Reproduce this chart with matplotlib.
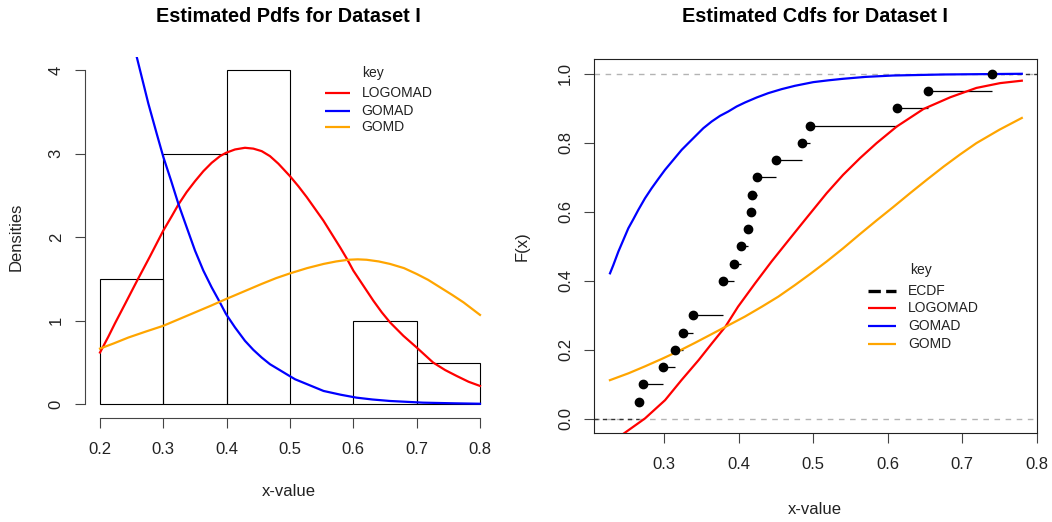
import numpy as np
import matplotlib
matplotlib.use("Agg")
import matplotlib.pyplot as plt
from matplotlib.lines import Line2D

plt.rcParams['font.family'] = ['Liberation Sans', 'DejaVu Sans']

# ---------------- data ----------------
sample = [0.266, 0.271, 0.298, 0.315, 0.325, 0.338, 0.379, 0.379, 0.393, 0.403,
          0.412, 0.416, 0.418, 0.424, 0.450, 0.485, 0.496, 0.613, 0.654, 0.740]
hist_breaks = [0.2, 0.3, 0.4, 0.5, 0.6, 0.7, 0.8]

models = ["LOGOMAD", "GOMAD", "GOMD"]
model_colors = ["red", "blue", "orange"]

# estimated pdfs
logomad_pdf_x = [0.200, 0.2132, 0.2237, 0.2395, 0.2579, 0.2789, 0.300, 0.3132, 0.3237, 0.3368,
                 0.350, 0.3632, 0.3763, 0.3895, 0.399, 0.4132, 0.4289, 0.4421, 0.4553, 0.4684,
                 0.4816, 0.500, 0.5132, 0.5264, 0.5395, 0.5526, 0.5658, 0.579, 0.590, 0.600,
                 0.6158, 0.6316, 0.645, 0.658, 0.679, 0.700, 0.713, 0.726, 0.745, 0.763,
                 0.782, 0.800]
logomad_pdf_y = [0.62, 0.81, 0.97, 1.20, 1.47, 1.77, 2.08, 2.25, 2.39, 2.54,
                 2.67, 2.79, 2.89, 2.97, 3.01, 3.05, 3.07, 3.06, 3.03, 2.97,
                 2.88, 2.73, 2.61, 2.48, 2.34, 2.20, 2.04, 1.88, 1.74, 1.60,
                 1.42, 1.24, 1.10, 0.98, 0.82, 0.68, 0.59, 0.50, 0.41, 0.34,
                 0.27, 0.22]
gomad_pdf_x = [0.250, 0.2579, 0.2658, 0.2763, 0.2895, 0.300, 0.3121, 0.3237, 0.3368, 0.350,
               0.3632, 0.3763, 0.3879, 0.399, 0.4132, 0.4289, 0.4421, 0.4553, 0.4684, 0.4816,
               0.4947, 0.508, 0.553, 0.580, 0.605, 0.630, 0.658, 0.710, 0.760, 0.800]
gomad_pdf_y = [4.41, 4.16, 3.92, 3.60, 3.24, 2.96, 2.68, 2.40, 2.12, 1.84,
               1.60, 1.40, 1.24, 1.08, 0.92, 0.76, 0.652, 0.56, 0.48, 0.42,
               0.36, 0.30, 0.16, 0.115, 0.08, 0.058, 0.04, 0.02, 0.012, 0.007]
gomd_pdf_x = [0.200, 0.222, 0.245, 0.272, 0.300, 0.325, 0.350, 0.375, 0.399, 0.427,
              0.455, 0.478, 0.500, 0.527, 0.553, 0.573, 0.592, 0.607, 0.621, 0.640,
              0.658, 0.680, 0.700, 0.718, 0.737, 0.756, 0.774, 0.800]
gomd_pdf_y = [0.667, 0.73, 0.80, 0.87, 0.94, 1.02, 1.10, 1.18, 1.26, 1.35,
              1.44, 1.51, 1.567, 1.63, 1.68, 1.71, 1.73, 1.735, 1.73, 1.71,
              1.68, 1.63, 1.56, 1.49, 1.40, 1.31, 1.22, 1.07]

# estimated cdfs
logomad_cdf_x = [0.246, 0.274, 0.301, 0.323, 0.346, 0.364, 0.382, 0.399, 0.422, 0.444, 0.467,
                 0.489, 0.518, 0.540, 0.563, 0.585, 0.612, 0.648, 0.684, 0.719, 0.751, 0.780]
logomad_cdf_y = [-0.042, 0.001, 0.054, 0.112, 0.170, 0.219, 0.267, 0.325, 0.393, 0.456, 0.518,
                 0.577, 0.654, 0.707, 0.756, 0.799, 0.847, 0.898, 0.932, 0.959, 0.973, 0.980]
gomad_cdf_x = [0.2271, 0.2316, 0.2383, 0.2450, 0.2517, 0.2584, 0.2651, 0.2741, 0.2830, 0.2920,
               0.3009, 0.3121, 0.3233, 0.3322, 0.3412, 0.3524, 0.3636, 0.3748, 0.3859, 0.3971,
               0.4083, 0.4240, 0.4396, 0.4575, 0.4754, 0.500, 0.520, 0.540, 0.570, 0.607,
               0.675, 0.780]
gomad_cdf_y = [0.4217, 0.4459, 0.4846, 0.5184, 0.5523, 0.5784, 0.6055, 0.6393, 0.6683, 0.6954,
               0.7215, 0.7505, 0.7795, 0.7988, 0.8182, 0.8423, 0.8617, 0.8781, 0.8907, 0.9052,
               0.9168, 0.9313, 0.9439, 0.9555, 0.9652, 0.9758, 0.981, 0.9855, 0.991, 0.995,
               0.998, 1.000]
gomd_cdf_x = [0.227, 0.252, 0.274, 0.297, 0.319, 0.341, 0.364, 0.386, 0.408, 0.431, 0.453,
              0.475, 0.496, 0.518, 0.540, 0.5625, 0.585, 0.6075, 0.630, 0.6525, 0.675,
              0.697, 0.719, 0.750, 0.780]
gomd_cdf_y = [0.112, 0.132, 0.152, 0.174, 0.196, 0.220, 0.246, 0.271, 0.296, 0.325, 0.354,
              0.387, 0.420, 0.456, 0.494, 0.535, 0.575, 0.614, 0.654, 0.693, 0.731,
              0.766, 0.799, 0.838, 0.872]

pdf_x = [logomad_pdf_x, gomad_pdf_x, gomd_pdf_x]
pdf_y = [logomad_pdf_y, gomad_pdf_y, gomd_pdf_y]
cdf_x = [logomad_cdf_x, gomad_cdf_x, gomd_cdf_x]
cdf_y = [logomad_cdf_y, gomad_cdf_y, gomd_cdf_y]

left_xticks = [0.2, 0.3, 0.4, 0.5, 0.6, 0.7, 0.8]
left_yticks = [0, 1, 2, 3, 4]
right_xticks = [0.3, 0.4, 0.5, 0.6, 0.7, 0.8]
right_yticks = [0.0, 0.2, 0.4, 0.6, 0.8, 1.0]

# ---------------- figure ----------------
W, H = 1052, 522
fig = plt.figure(figsize=(W / 100, H / 100), dpi=100)

def px_rect(x0, y0, x1, y1):
    return [x0 / W, 1 - y1 / H, (x1 - x0) / W, (y1 - y0) / H]

def fx(px):
    return px / W

def fy(py):
    return 1 - py / H

TICK_FS = 12
LAB_FS = 12
TITLE_FS = 14.3
LEG_FS = 10
LW = 1.6
TXT = '#222222'


def draw_key(x_line0, x_line1, x_text, x_title, y_title, rows, handles):
    fig.text(fx(x_title), fy(y_title), "key", ha='center', va='center',
             fontsize=LEG_FS, color=TXT)
    for y, h in zip(rows, handles):
        fig.add_artist(Line2D([fx(x_line0), fx(x_line1)], [fy(y), fy(y)],
                              transform=fig.transFigure, color=h.get_color(),
                              lw=h.get_linewidth(), ls=h.get_linestyle(),
                              solid_capstyle='butt', dash_capstyle='butt'))
        fig.text(fx(x_text), fy(y), h.get_label(), ha='left', va='center',
                 fontsize=LEG_FS, color=TXT)


# ---- left: pdfs ----
ax1 = fig.add_axes(px_rect(84.8, 56.7, 495.2, 417.7))
ax1.hist(sample, bins=hist_breaks, density=True, fill=False, edgecolor='black',
         linewidth=0.8)
handles1 = []
for name, col, xs, ys in zip(models, model_colors, pdf_x, pdf_y):
    ln, = ax1.plot(xs, ys, color=col, lw=LW, label=name)
    handles1.append(ln)
ax1.set_xlim(0.176, 0.824)
ax1.set_ylim(-0.16, 4.16)
for s in ['top', 'right']:
    ax1.spines[s].set_visible(False)
ax1.spines['left'].set_bounds(0, 4)
ax1.spines['bottom'].set_bounds(0.2, 0.8)
for s in ['left', 'bottom']:
    ax1.spines[s].set_color('#444444')
    ax1.spines[s].set_linewidth(0.8)
ax1.set_xticks(left_xticks)
ax1.set_xticklabels([f"{v:.1f}" for v in left_xticks])
ax1.set_yticks(left_yticks)
ax1.set_yticklabels([str(v) for v in left_yticks], rotation=90, va='center')
ax1.tick_params(axis='both', direction='out', length=7.2, width=0.8, color='#444444',
                labelsize=TICK_FS, labelcolor=TXT)
ax1.tick_params(axis='x', pad=10)
ax1.tick_params(axis='y', pad=8)
draw_key(325, 350, 361.7, 373, 73.3, [93.3, 110.7, 127.3], handles1)

fig.text(fx(288.3), fy(21.7), "Estimated Pdfs for Dataset I", ha='center', va='baseline',
         fontsize=TITLE_FS, fontweight='bold', color='black')
fig.text(fx(289), fy(491.7), "x-value", ha='center', va='center', fontsize=LAB_FS,
         color=TXT)
fig.text(fx(16.3), fy(237.2), "Densities", ha='center', va='center', rotation=90,
         fontsize=LAB_FS, color=TXT)

# ---- right: cdfs ----
ax2 = fig.add_axes(px_rect(594, 59.3, 1036.7, 433.3))
ax2.set_xlim(0.2056, 0.8)
ax2.set_ylim(-0.042, 1.042)
ax2.axhline(0, color='#b3b3b3', lw=1.0, ls=(0, (4, 4)), zorder=1)
ax2.axhline(1, color='#b3b3b3', lw=1.0, ls=(0, (4, 4)), zorder=1)

ux, cnt = np.unique(np.array(sample), return_counts=True)
Fy = np.cumsum(cnt) / len(sample)
ax2.hlines(Fy[:-1], ux[:-1], ux[1:], color='black', lw=0.9, zorder=3)
ax2.hlines([0.0], ax2.get_xlim()[0], ux[0], color='#333333', lw=1.0,
           linestyles=[(0, (3, 3))], zorder=2)
ax2.hlines([1.0], ux[-1], ax2.get_xlim()[1], color='#333333', lw=1.0,
           linestyles=[(0, (3, 3))], zorder=2)
ax2.plot(ux, Fy, 'o', color='black', markersize=6, zorder=4)

handles2 = [Line2D([], [], color='black', lw=2.4, ls=(0, (3.2, 1.6)), label="ECDF")]
for name, col, xs, ys in zip(models, model_colors, cdf_x, cdf_y):
    ln, = ax2.plot(xs, ys, color=col, lw=LW, label=name, zorder=3)
    handles2.append(ln)

for s in ax2.spines.values():
    s.set_color('#222222')
    s.set_linewidth(0.8)
ax2.set_xticks(right_xticks)
ax2.set_xticklabels([f"{v:.1f}" for v in right_xticks])
ax2.set_yticks(right_yticks)
ax2.set_yticklabels([f"{v:.1f}" for v in right_yticks], rotation=90, va='center')
ax2.tick_params(axis='both', direction='out', length=7.2, width=0.8, color='#444444',
                labelsize=TICK_FS, labelcolor=TXT)
ax2.tick_params(axis='x', pad=10)
ax2.tick_params(axis='y', pad=8)
draw_key(868, 896, 908.3, 921, 270, [290.7, 308.3, 325.7, 344.0], handles2)

fig.text(fx(815), fy(21.7), "Estimated Cdfs for Dataset I", ha='center', va='baseline',
         fontsize=TITLE_FS, fontweight='bold', color='black')
fig.text(fx(815), fy(509), "x-value", ha='center', va='center', fontsize=LAB_FS,
         color=TXT)
fig.text(fx(522), fy(246.3), "F(x)", ha='center', va='center', rotation=90,
         fontsize=LAB_FS, color=TXT)

fig.savefig("out.png", dpi=100)
